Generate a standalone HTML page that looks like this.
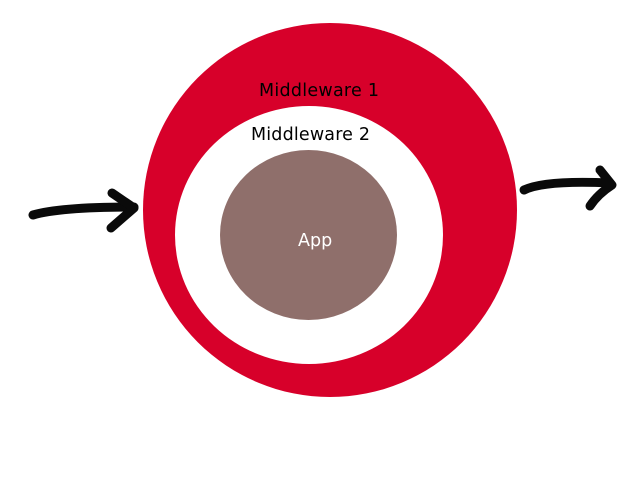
<!DOCTYPE html>
<html><head><style>body{margin:0;background:#fff}svg{display:block}</style></head><body>
<svg width="640" height="480" viewBox="0 0 640 480" xmlns="http://www.w3.org/2000/svg">
<rect width="640" height="480" fill="#fff"/>
<circle cx="330" cy="210" r="187" fill="#d7002a"/>
<ellipse cx="309" cy="235" rx="134" ry="129" fill="#fff"/>
<ellipse cx="308.5" cy="235" rx="88.5" ry="85" fill="#8f6f6b"/>
<g font-family="DejaVu Sans, sans-serif" font-size="17.5">
<text x="259" y="96" textLength="120">Middleware 1</text>
<text x="251" y="140" textLength="119">Middleware 2</text>
<text x="298" y="246" fill="#fff">App</text>
</g>
<g fill="none" stroke="#0a0a0a" stroke-width="9" stroke-linecap="round" stroke-linejoin="round">
<path d="M33 215 Q60 207 134 207"/>
<path d="M112 193 L134 208 L111 228"/>
<path d="M524 190 Q545 180 610 183"/>
<path d="M600 170 L612 185 Q598 194 590 206"/>
</g>
</svg>
</body></html>
